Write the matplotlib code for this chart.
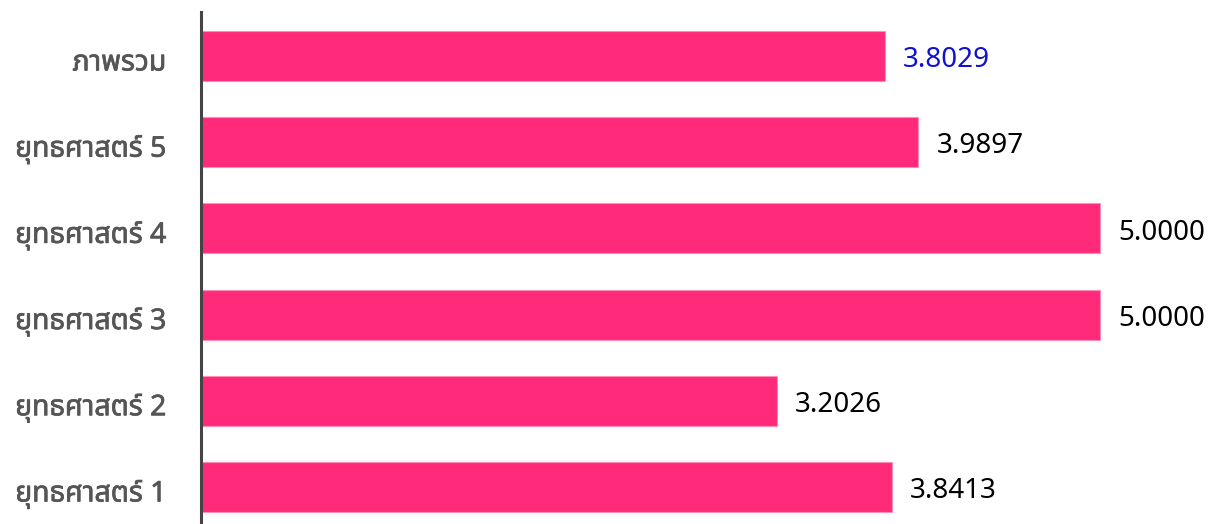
import matplotlib
matplotlib.use("Agg")
import matplotlib.pyplot as plt
import matplotlib.patheffects as pe
from matplotlib import font_manager
from fontTools.ttLib import TTFont

# data, bottom to top
labels = ["ยุทธศาสตร์ 1", "ยุทธศาสตร์ 2", "ยุทธศาสตร์ 3",
          "ยุทธศาสตร์ 4", "ยุทธศาสตร์ 5", "ภาพรวม"]
values = [3.8413, 3.2026, 5.0000, 5.0000, 3.9897, 3.8029]
value_colors = ["black", "black", "black", "black", "black", "#1010d0"]


def find_thai_font():
    # look for any installed font that has Thai glyphs
    names = []
    for f in font_manager.fontManager.ttflist:
        try:
            tt = TTFont(f.fname, fontNumber=0, lazy=True)
            cmap = tt.getBestCmap()
            if cmap and 0x0E20 in cmap and 0x0E38 in cmap:
                names.append(f.name)
        except Exception:
            continue
    for pref in ["Noto Sans Thai", "Noto Sans Thai UI", "Loma", "Garuda", "Tlwg Typist"]:
        if pref in names:
            return pref
    return names[0] if names else None


thai = find_thai_font()
families = ([thai] if thai else []) + ["DejaVu Sans"]
plt.rcParams["font.family"] = families

fig = plt.figure(figsize=(12.15, 5.24), dpi=100)
ax = fig.add_axes([201 / 1215, 0, 1014 / 1215, 512 / 524])

unit = 179.8  # pixels per unit
ax.barh(range(len(values)), values, height=0.58, color="#ff2a7a",
        edgecolor="#ff8fb5", linewidth=0.8)

ax.set_xlim(0, 1014 / unit)
ax.set_ylim(-0.43, 5.51)

for i, (v, c) in enumerate(zip(values, value_colors)):
    ax.text(v + 18 / unit, i - 0.05, f"{v:.4f}", va="center", ha="left",
            fontsize=20, color=c)

ax.set_yticks([i - 0.04 for i in range(len(labels))])
ax.set_yticklabels(labels, fontsize=20.5, color="#555555")
# the Thai font has no bold face, so thicken the strokes a little
for t in ax.get_yticklabels():
    t.set_path_effects([pe.withStroke(linewidth=0.5, foreground="#555555")])
ax.tick_params(axis="y", length=0, pad=25)
ax.set_xticks([])

for s in ["top", "right", "bottom"]:
    ax.spines[s].set_visible(False)
ax.spines["left"].set_color("#444444")
ax.spines["left"].set_linewidth(2.2)

fig.savefig("out.png", dpi=100)
